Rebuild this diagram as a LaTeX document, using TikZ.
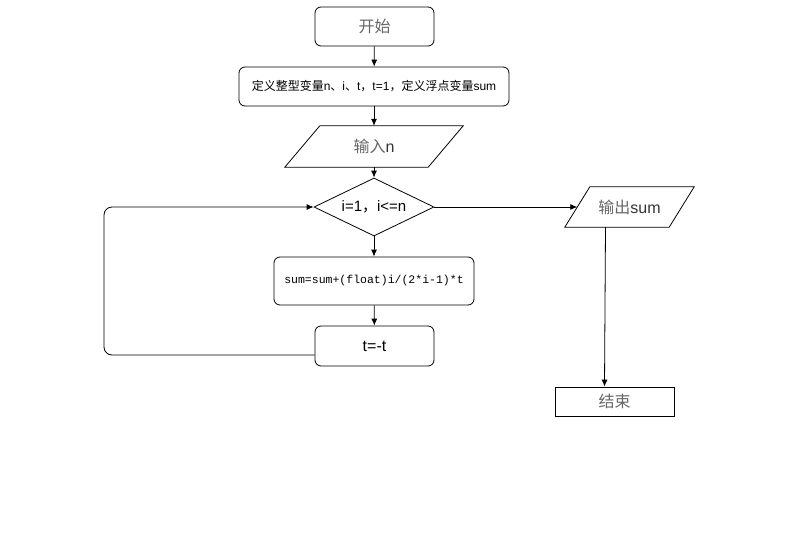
\documentclass[tikz,border=0pt]{standalone}
\usepackage{fontspec}
\setmainfont{Liberation Sans}
\setmonofont{Liberation Mono}
\newfontfamily\cjk{Noto Sans CJK SC}
\usetikzlibrary{shapes.geometric,arrows.meta}

\definecolor{txtgrey}{HTML}{666666}
\definecolor{txtdark}{HTML}{333333}

\tikzset{
	box/.style={draw,rounded corners=6pt,line width=0.8pt,inner sep=0pt},
	iobox/.style={inner sep=0pt,text=txtgrey},
	decide/.style={draw,diamond,aspect=2,line width=0.8pt,inner sep=0pt},
	flow/.style={-{Latex[length=7pt,width=6pt]},line width=0.8pt}
}

% parallelogram round a plain node: #1 = node, #2 = half slant
\newcommand{\slantbox}[2]{%
	\draw[line width=0.8pt] ([xshift=#2]#1.north west) -- ([xshift=#2]#1.north east)
		-- ([xshift=-#2]#1.south east) -- ([xshift=-#2]#1.south west) -- cycle;}

\begin{document}
\begin{tikzpicture}[x=1pt,y=-1pt]
	\useasboundingbox[fill=white] (0,0) rectangle (801,546);
	
	% main column
	\node[box,minimum width=119pt,minimum height=39pt,text=txtgrey,font=\fontsize{16}{18}\selectfont] (start) at (374.5,26.5) {\cjk 开始};
	\node[box,minimum width=270pt,minimum height=39pt,font=\fontsize{12}{14}\selectfont] (def) at (374,86.5) {{\cjk 定义整型变量}n{\cjk 、}i{\cjk 、}t{\cjk ，}t=1{\cjk ，定义浮点变量}sum};
	\node[iobox,minimum width=143pt,minimum height=41pt,font=\fontsize{16}{18}\selectfont] (in) at (374,146.5) {{\cjk 输入}\textcolor{txtdark}{n}};
	\slantbox{in}{17.5pt}
	\node[decide,minimum width=120pt,minimum height=58pt,font=\fontsize{15}{18}\selectfont] (cond) at (374,207) {i=1{\cjk ，}i<=n};
	\node[box,minimum width=200pt,minimum height=48pt,font=\ttfamily\fontsize{11.5}{13}\selectfont] (upd) at (374,281) {sum=sum+(float)i/(2*i-1)*t};
	\node[box,minimum width=119pt,minimum height=40pt,font=\fontsize{16}{18}\selectfont] (neg) at (374.5,346) {t=-t};
	
	% right column
	\node[iobox,minimum width=104pt,minimum height=40pt,font=\fontsize{16}{18}\selectfont] (out) at (629.5,207) {{\cjk 输出}\textcolor{txtdark}{sum}};
	\slantbox{out}{12.5pt}
	\node[draw,line width=0.8pt,minimum width=119pt,minimum height=29pt,text=txtgrey,font=\fontsize{16}{18}\selectfont] (end) at (614.5,401.5) {\cjk 结束};
	
	\coordinate (lb) at (104,355);
	\coordinate (lt) at (104,207);
	
	\draw[flow] (start) -- (def);
	\draw[flow] (def) -- (in);
	\draw[flow] (in) -- (cond);
	\draw[flow] (cond) -- (upd);
	\draw[flow] (upd) -- (neg);
	\draw[flow,rounded corners=8pt] ([yshift=-9pt]neg.west) -- (lb) -- (lt) -- (cond.west);
	\draw[flow] (cond.east) -- (out.west);
	\draw[flow] ([xshift=-24pt]out.south) -- ([xshift=-10pt]end.north);
	\end{tikzpicture}
\end{document}
